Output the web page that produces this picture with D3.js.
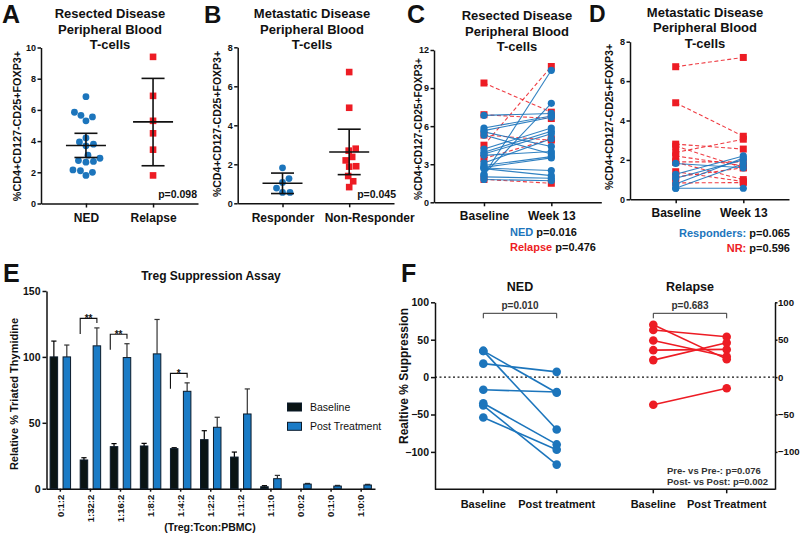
<!DOCTYPE html>
<html><head><meta charset="utf-8">
<script src="https://cdn.jsdelivr.net/npm/d3@7"></script>
<style>
body{margin:0;background:#fff;}
svg{font-family:"Liberation Sans",Arial,Helvetica,sans-serif;}
</style></head><body>
<svg id="c" width="800" height="533"></svg>
<script>
// ---------------- DATA ----------------
// Panel A
const aCats = ["NED", "Relapse"];
const aNED = [6.85,5.85,5.55,5.65,5.3,3.95,3.7,3.8,4.2,2.9,3.1,2.7,2.65,2.75,2.1,1.8,2.0,2.15];
const aRelapse = [9.4,6.9,5.3,4.5,3.45,1.8];
const aMean = [3.72, 5.23];
const aLo = [2.95, 2.42];
const aHi = [4.5, 8.02];
const aTicks = [0,2,4,6,8,10];
const aTitle = ["Resected Disease","Peripheral Blood","T-cells"];
const aP = "p=0.098";
// Panel B
const bCats = ["Responder", "Non-Responder"];
const bResp = [1.82,1.27,1.07,0.78,0.56,0.56];
const bNonResp = [6.73,4.9,2.8,2.7,2.38,2.2,1.9,1.88,1.4,1.13,0.83];
const bMean = [1.03, 2.63];
const bLo = [0.5, 1.47];
const bHi = [1.55, 3.8];
const bTicks = [0,2,4,6,8];
const bTitle = ["Metastatic Disease","Peripheral Blood","T-cells"];
const bP = "p=0.045";
// Panel C
const cTimes = ["Baseline","Week 13"];
const cNEDBase = [2.15,2.2,6.85,5.85,5.65,5.55,5.3,4.2,3.95,3.8,3.7,3.1,2.9,2.75,2.7,2.65,2.0,1.8];
const cNEDW13  = [10.4,7.8,7.0,6.8,6.7,4.4,3.8,5.85,5.6,5.4,4.0,5.0,3.6,3.5,2.5,2.1,1.9,1.7];
const cRelBase = [9.4,6.9,5.3,4.5,3.45,1.8];
const cRelW13  = [7.1,6.6,4.9,10.7,5.0,1.5];
const cTicks = [0,3,6,9,12];
const cTitle = ["Resected Disease","Peripheral Blood","T-cells"];
const cLegend = [["NED"," p=0.016"],["Relapse"," p=0.476"]];
// Panel D
const dRespBase = [1.82,1.27,1.07,0.78,0.56,0.56];
const dRespW13  = [1.6,2.2,2.0,2.1,1.8,0.56];
const dNRBase = [6.73,4.9,2.8,2.7,2.38,2.2,1.9,1.88,1.4,1.13,0.83];
const dNRW13  = [7.2,3.2,2.55,1.6,3.05,1.7,1.9,1.0,0.9,1.6,0.85];
const dTicks = [0,2,4,6,8];
const dTitle = ["Metastatic Disease","Peripheral Blood","T-cells"];
const dLegend = [["Responders:"," p=0.065"],["NR:"," p=0.596"]];
// Panel E
const eCats = ["0:1:2","1:32:2","1:16:2","1:8:2","1:4:2","1:2:2","1:1:2","1:1:0","0:0:2","0:1:0","1:0:0"];
const eSeries = ["Baseline","Post Treatment"];
const eBaseline = [100,21.8,31.9,32.4,30.4,37.2,24,1.5,0,0,0];
const eBaselineErr = [12,1.7,2.3,2,0.7,6.8,3.8,0.8,0,0,0];
const ePost = [100,108.4,99.5,102.3,73.9,46.6,56.7,7.6,3.5,2,2.8];
const ePostErr = [9,13.6,10.5,26.1,6.4,7.6,19,2.5,0.5,0.5,0.5];
const eSig = [{cat:"1:32:2",label:"**"},{cat:"1:16:2",label:"**"},{cat:"1:4:2",label:"*"}];
const eTicks = [0,50,100,150];
// Panel F
const fGroups = ["NED","Relapse"];
const fTimes = ["Baseline","Post"];
const fTimeLabels = [["Baseline","Post treatment"],["Baseline","Post Treatment"]];
const fNEDBase = [35,35,18,-17,-35,-38,-54];
const fNEDPost = [-21,-70,7,-20,-90,-117,-97];
const fRelBase = [70,63,49,36,22.7,-37];
const fRelPost = [24,54,27.5,37,46,-15];
const fP = ["p=0.010","p=0.683"];
const fTicks = [-100,-50,0,50,100];
const fNotes = ["Pre- vs Pre-: p=0.076","Post- vs Post: p=0.002"];

// ---------------- STYLE ----------------
const BLUE = "#1c75bc", RED = "#ed1c24", INK = "#111";
const FONT = '"Liberation Sans",Arial,Helvetica,sans-serif';
const svg = d3.select("#c");

function styleAxis(g, fs) {
  g.selectAll("path,line").attr("stroke", INK).attr("stroke-width", 1.5);
  g.selectAll("text").attr("font-size", fs).attr("font-weight", "bold")
    .attr("fill", INK).attr("font-family", FONT);
}
function txt(x, y, s, fs, opts = {}) {
  const t = svg.append("text").attr("x", x).attr("y", y).text(s)
    .attr("font-size", fs).attr("font-weight", opts.weight || "bold")
    .attr("fill", opts.fill || INK).attr("text-anchor", opts.anchor || "start");
  if (opts.rotate) t.attr("transform", `rotate(-90,${x},${y})`);
  return t;
}
function title(lines, cx, y0, fs) {
  lines.forEach((l, i) => txt(cx, y0 + i * 15.5, l, fs, {anchor: "middle"}));
}
function swarm(vals, y, cx, minD) {
  const order = vals.map((v, i) => i).sort((a, b) => vals[a] - vals[b]);
  const placed = [], out = new Array(vals.length);
  for (const i of order) {
    const yy = y(vals[i]);
    for (let k = 0; k < 400; k++) {
      const cand = (k % 2 ? 1 : -1) * Math.ceil(k / 2) * 0.5;
      if (placed.every(p => (p.x - cand) ** 2 + (p.y - yy) ** 2 >= minD * minD)) {
        placed.push({x: cand, y: yy}); out[i] = {x: cx + cand, y: yy}; break;
      }
    }
  }
  return out;
}
function drawPoint(g, p, shape, color, size) {
  if (shape === "circle") g.append("circle").attr("cx", p.x).attr("cy", p.y).attr("r", size).attr("fill", color);
  else g.append("rect").attr("x", p.x - size).attr("y", p.y - size).attr("width", size * 2).attr("height", size * 2).attr("fill", color);
}

// ---------------- PANELS A & B ----------------
function scatterPanel(cfg, cats, series, mean, lo, hi, ticks) {
  const g = svg.append("g");
  const y = d3.scaleLinear().domain([ticks[0], ticks[ticks.length - 1]]).range([cfg.bottom, cfg.top]);
  const x = d3.scalePoint().domain(cats).range([cfg.left, cfg.right]).padding(cfg.pad);
  const ya = g.append("g").attr("transform", `translate(${cfg.left},0)`)
    .call(d3.axisLeft(y).tickValues(ticks).tickSize(3.5).tickSizeOuter(0).tickPadding(1.5));
  styleAxis(ya, 9);
  const xa = g.append("g").attr("transform", `translate(0,${cfg.bottom})`)
    .call(d3.axisBottom(x).tickSize(4).tickSizeOuter(0).tickPadding(6));
  styleAxis(xa, 12);
  if (cfg.labelShift) xa.selectAll(".tick text").attr("dx", (d, i) => cfg.labelShift[i]);
  cats.forEach((c, i) => {
    const cx = x(c);
    const s = series[i];
    const pts = swarm(s.values, y, cx, s.shape === "circle" ? 7.2 : 7.0);
    pts.forEach(p => drawPoint(g, p, s.shape, s.color, s.shape === "circle" ? 3.4 : 3.3));
    const lw = 1.6;
    g.append("line").attr("x1", cx - 20).attr("x2", cx + 20).attr("y1", y(mean[i])).attr("y2", y(mean[i])).attr("stroke", INK).attr("stroke-width", lw);
    g.append("line").attr("x1", cx).attr("x2", cx).attr("y1", y(lo[i])).attr("y2", y(hi[i])).attr("stroke", INK).attr("stroke-width", lw);
    [lo[i], hi[i]].forEach(v => g.append("line").attr("x1", cx - 11.5).attr("x2", cx + 11.5).attr("y1", y(v)).attr("y2", y(v)).attr("stroke", INK).attr("stroke-width", lw));
  });
}
scatterPanel({left: 41, right: 198, top: 47.5, bottom: 203.5, pad: 0.67}, aCats,
  [{values: aNED, shape: "circle", color: BLUE}, {values: aRelapse, shape: "square", color: RED}],
  aMean, aLo, aHi, aTicks);
txt(2, 23, "A", 25);
title(aTitle, 110, 18, 13);
txt(20.5, 126, "%CD4+CD127-CD25+FOXP3+", 10.8, {anchor: "middle", rotate: true});
txt(197, 198, aP, 10.5, {anchor: "end"});

scatterPanel({left: 237.7, right: 394, top: 47.3, bottom: 203.3, pad: 0.672, labelShift: [0, 20]}, bCats,
  [{values: bResp, shape: "circle", color: BLUE}, {values: bNonResp, shape: "square", color: RED}],
  bMean, bLo, bHi, bTicks);
txt(204, 22.5, "B", 24);
title(bTitle, 312, 18, 13);
txt(221, 124, "%CD4+CD127-CD25+FOXP3+", 10.5, {anchor: "middle", rotate: true});
txt(396, 198, bP, 10.5, {anchor: "end"});

// ---------------- PANELS C & D ----------------
function pairedPanel(cfg, groups, ticks) {
  const g = svg.append("g");
  const y = d3.scaleLinear().domain([ticks[0], ticks[ticks.length - 1]]).range([cfg.bottom, cfg.top]);
  const x = d3.scalePoint().domain(cTimes).range([cfg.left, cfg.right]).padding(cfg.pad);
  const ya = g.append("g").attr("transform", `translate(${cfg.left},0)`)
    .call(d3.axisLeft(y).tickValues(ticks).tickSize(3.5).tickSizeOuter(0).tickPadding(1.5));
  styleAxis(ya, 9);
  const xa = g.append("g").attr("transform", `translate(0,${cfg.bottom})`)
    .call(d3.axisBottom(x).tickSize(4).tickSizeOuter(0).tickPadding(5));
  styleAxis(xa, 12);
  groups.forEach(s => {
    s.base.forEach((b, i) => {
      g.append("line").attr("x1", x(cTimes[0])).attr("x2", x(cTimes[1]))
        .attr("y1", y(b)).attr("y2", y(s.post[i]))
        .attr("stroke", s.color).attr("stroke-width", 1.1).attr("opacity", s.dashed ? 0.85 : 0.9)
        .attr("stroke-dasharray", s.dashed ? "4,2.5" : null);
    });
  });
  groups.forEach(s => {
    s.base.forEach((b, i) => {
      drawPoint(g, {x: x(cTimes[0]), y: y(b)}, s.shape, s.color, s.shape === "circle" ? 3.6 : 3.5);
      drawPoint(g, {x: x(cTimes[1]), y: y(s.post[i])}, s.shape, s.color, s.shape === "circle" ? 3.6 : 3.5);
    });
  });
}
pairedPanel({left: 434, right: 601.3, top: 50, bottom: 202.3, pad: 0.742}, [
  {base: cRelBase, post: cRelW13, color: RED, shape: "square", dashed: true},
  {base: cNEDBase, post: cNEDW13, color: BLUE, shape: "circle", dashed: false}], cTicks);
txt(407, 23, "C", 25);
title(cTitle, 517, 20, 13);
txt(421.5, 129, "%CD4+CD127-CD25+FOXP3+", 10.2, {anchor: "middle", rotate: true});
cLegend.forEach((l, i) => {
  const t = txt(510, 236 + i * 14.5, "", 11);
  t.append("tspan").text(l[0]).attr("fill", i === 0 ? BLUE : RED);
  t.append("tspan").text(l[1]);
});

pairedPanel({left: 630, right: 789, top: 41.7, bottom: 199.3, pad: 0.676}, [
  {base: dNRBase, post: dNRW13, color: RED, shape: "square", dashed: true},
  {base: dRespBase, post: dRespW13, color: BLUE, shape: "circle", dashed: false}], dTicks);
txt(589, 21.5, "D", 23);
title(dTitle, 705, 16.5, 13);
txt(612.5, 117, "%CD4+CD127-CD25+FOXP3+", 10.5, {anchor: "middle", rotate: true});
dLegend.forEach((l, i) => {
  const t = txt(790, 237 + i * 15, "", 11, {anchor: "end"});
  t.append("tspan").text(l[0]).attr("fill", i === 0 ? BLUE : RED);
  t.append("tspan").text(l[1]);
});

// ---------------- PANEL E ----------------
(function () {
  const g = svg.append("g");
  const L = 46.5, R = 375, T = 291, B = 488.7;
  const y = d3.scaleLinear().domain([0, 150]).range([B, T]);
  const x = d3.scaleBand().domain(eCats).range([L, R]).paddingInner(0.32).paddingOuter(0.12);
  const x1 = d3.scaleBand().domain(eSeries).range([0, x.bandwidth()]).paddingInner(0.42);
  const ya = g.append("g").attr("transform", `translate(${L},0)`)
    .call(d3.axisLeft(y).tickValues(eTicks).tickSize(4).tickSizeOuter(0).tickPadding(2));
  styleAxis(ya, 10.5);
  const xa = g.append("g").attr("transform", `translate(0,${B})`)
    .call(d3.axisBottom(x).tickSize(3).tickSizeOuter(0).tickPadding(4));
  styleAxis(xa, 9.5);
  xa.selectAll(".tick text").attr("transform", "rotate(-90)").attr("text-anchor", "end")
    .attr("dy", "0.35em").attr("x", -6).attr("y", 0);
  const sets = [
    {name: eSeries[0], vals: eBaseline, err: eBaselineErr, fill: "#0a1414", errc: "#000"},
    {name: eSeries[1], vals: ePost, err: ePostErr, fill: "#1a7bc6", errc: "#333"}];
  sets.forEach(s => {
    eCats.forEach((c, i) => {
      const bx = x(c) + x1(s.name), bw = x1.bandwidth();
      const cx = bx + bw / 2;
      if (s.err[i] > 0) {
        const top = y(s.vals[i] + s.err[i]);
        g.append("line").attr("x1", cx).attr("x2", cx).attr("y1", y(s.vals[i])).attr("y2", top).attr("stroke", s.errc).attr("stroke-width", 1.2);
        g.append("line").attr("x1", cx - 2.6).attr("x2", cx + 2.6).attr("y1", top).attr("y2", top).attr("stroke", s.errc).attr("stroke-width", 1.2);
      }
      g.append("rect").attr("x", bx).attr("y", y(s.vals[i])).attr("width", bw)
        .attr("height", Math.max(0, B - y(s.vals[i]))).attr("fill", s.fill)
        .attr("stroke", "#0b1b2b").attr("stroke-width", 1);
    });
  });
  eSig.forEach(sg => {
    const i = eCats.indexOf(sg.cat);
    const top = y(ePost[i] + ePostErr[i]) - 9.5;
    const xl = x(sg.cat) + x1(eSeries[0]);
    const xr = x(sg.cat) + x1(eSeries[1]) + x1.bandwidth() / 2;
    g.append("path").attr("d", `M${xl},${top + 15.5}V${top}H${xr}V${top + 4.5}`)
      .attr("fill", "none").attr("stroke", INK).attr("stroke-width", 1.1);
    txt((xl + xr) / 2, top + 3.5, sg.label, 10, {anchor: "middle"});
  });
  // legend
  eSeries.forEach((s, i) => {
    g.append("rect").attr("x", 287.5).attr("y", 403 + i * 19.3).attr("width", 14).attr("height", 8)
      .attr("fill", sets[i].fill).attr("stroke", "#0b1b2b").attr("stroke-width", 1);
    txt(310, 411 + i * 19.3, s, 10.5, {weight: "normal"});
  });
  txt(3, 282, "E", 25);
  txt(211, 280, "Treg Suppression Assay", 12, {anchor: "middle"});
  txt(18, 394, "Relative % Triated Thymidine", 11, {anchor: "middle", rotate: true});
  txt(210, 531, "(Treg:Tcon:PBMC)", 10.5, {anchor: "middle"});
})();

// ---------------- PANEL F ----------------
(function () {
  const g = svg.append("g");
  const L = 435, R = 775, T = 302.3, B = 489.3;
  const y = d3.scaleLinear().domain([-150, 100]).range([B, T]);
  const xg = d3.scaleBand().domain(fGroups).range([L, R]);
  const xt = d3.scalePoint().domain(fTimes).range([0, xg.bandwidth()]).padding(0.658);
  const ya = g.append("g").attr("transform", `translate(${L},0)`)
    .call(d3.axisLeft(y).tickValues(fTicks).tickSize(4).tickSizeOuter(0).tickPadding(2));
  styleAxis(ya, 10.5);
  const yb = g.append("g").attr("transform", `translate(${R},0)`)
    .call(d3.axisRight(y).tickValues(fTicks).tickSize(2.5).tickSizeOuter(0).tickPadding(0.5));
  styleAxis(yb, 9.6);
  g.append("line").attr("x1", L).attr("x2", R).attr("y1", B).attr("y2", B).attr("stroke", INK).attr("stroke-width", 1.5);
  g.append("line").attr("x1", L).attr("x2", R).attr("y1", y(0)).attr("y2", y(0))
    .attr("stroke", INK).attr("stroke-width", 1.2).attr("stroke-dasharray", "2,2.5");
  const data = [{base: fNEDBase, post: fNEDPost, color: BLUE}, {base: fRelBase, post: fRelPost, color: RED}];
  fGroups.forEach((gr, gi) => {
    const x0 = xg(gr) + xt(fTimes[0]), x1 = xg(gr) + xt(fTimes[1]);
    fTimes.forEach((t, ti) => {
      const xx = xg(gr) + xt(t);
      g.append("line").attr("x1", xx).attr("x2", xx).attr("y1", B).attr("y2", B + 4).attr("stroke", INK).attr("stroke-width", 1.5);
      txt(xx, B + 18.5, fTimeLabels[gi][ti], 11, {anchor: "middle"});
    });
    const d = data[gi];
    d.base.forEach((b, i) => g.append("line").attr("x1", x0).attr("x2", x1).attr("y1", y(b)).attr("y2", y(d.post[i]))
      .attr("stroke", d.color).attr("stroke-width", 1.6));
    d.base.forEach((b, i) => {
      g.append("circle").attr("cx", x0).attr("cy", y(b)).attr("r", 4.3).attr("fill", d.color);
      g.append("circle").attr("cx", x1).attr("cy", y(d.post[i])).attr("r", 4.3).attr("fill", d.color);
    });
    const by = y(100) + 11;
    g.append("path").attr("d", `M${x0},${by + 5}V${by}H${x1}V${by + 5}`).attr("fill", "none").attr("stroke", "#333").attr("stroke-width", 1);
    txt((x0 + x1) / 2, by - 4, fP[gi], 10, {anchor: "middle", fill: "#333"});
    txt(xg(gr) + xg.bandwidth() / 2, 291, gr, 12.5, {anchor: "middle"});
  });
  fNotes.forEach((n, i) => txt(667, 474 + i * 10.5, n, 9.5, {fill: "#333"}));
  txt(401, 282, "F", 25);
  txt(408, 376, "Realtive % Suppression", 12, {anchor: "middle", rotate: true});
})();
</script>
</body></html>
